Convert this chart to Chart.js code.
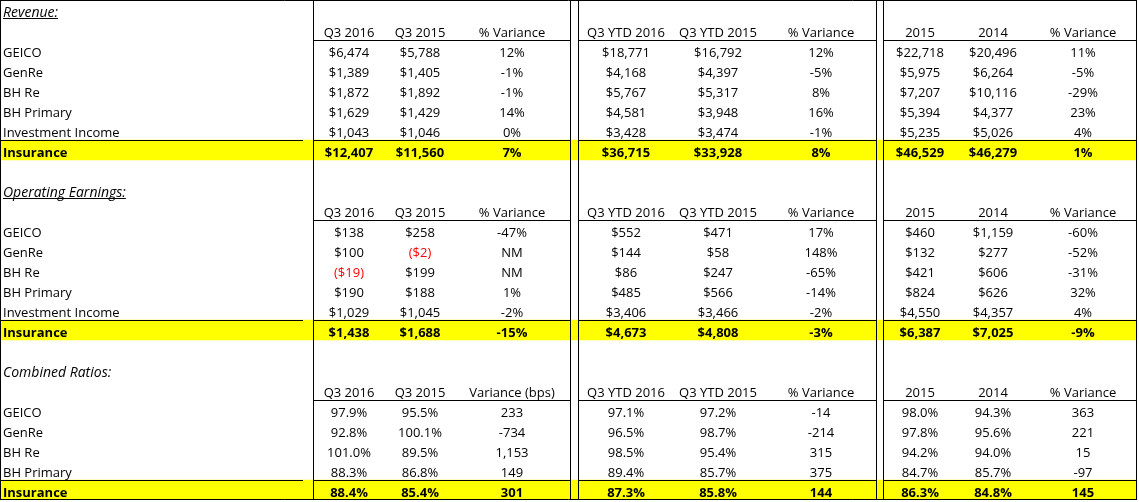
<!DOCTYPE html>
<html>
<head>
<meta charset="utf-8">
<script src="https://cdn.jsdelivr.net/npm/chart.js@4.4.0/dist/chart.umd.min.js"></script>
<style>
  html, body { margin: 0; padding: 0; background: #ffffff; }
  #wrap { width: 1139px; height: 502px; position: relative; }
</style>
</head>
<body>
<div id="wrap"><canvas id="c"></canvas></div>
<script>
// ---------------- DATA ----------------
const sectionTitles = ['Revenue:', 'Operating Earnings:', 'Combined Ratios:'];
const periodHeaders = ['Q3 2016', 'Q3 2015', '% Variance', 'Q3 YTD 2016', 'Q3 YTD 2015', '% Variance', '2015', '2014', '% Variance'];
const ratioHeaders  = ['Q3 2016', 'Q3 2015', 'Variance (bps)', 'Q3 YTD 2016', 'Q3 YTD 2015', '% Variance', '2015', '2014', '% Variance'];

const revenueLabels = ['GEICO', 'GenRe', 'BH Re', 'BH Primary', 'Investment Income', 'Insurance'];
const revenueValues = [
  [6474, 5788, 12, 18771, 16792, 12, 22718, 20496, 11],
  [1389, 1405, -1, 4168, 4397, -5, 5975, 6264, -5],
  [1872, 1892, -1, 5767, 5317, 8, 7207, 10116, -29],
  [1629, 1429, 14, 4581, 3948, 16, 5394, 4377, 23],
  [1043, 1046, 0, 3428, 3474, -1, 5235, 5026, 4],
  [12407, 11560, 7, 36715, 33928, 8, 46529, 46279, 1]
];

const earningsLabels = ['GEICO', 'GenRe', 'BH Re', 'BH Primary', 'Investment Income', 'Insurance'];
const earningsValues = [
  [138, 258, -47, 552, 471, 17, 460, 1159, -60],
  [100, -2, null, 144, 58, 148, 132, 277, -52],
  [-19, 199, null, 86, 247, -65, 421, 606, -31],
  [190, 188, 1, 485, 566, -14, 824, 626, 32],
  [1029, 1045, -2, 3406, 3466, -2, 4550, 4357, 4],
  [1438, 1688, -15, 4673, 4808, -3, 6387, 7025, -9]
];

const ratioLabels = ['GEICO', 'GenRe', 'BH Re', 'BH Primary', 'Insurance'];
const ratioValues = [
  [97.9, 95.5, 233, 97.1, 97.2, -14, 98.0, 94.3, 363],
  [92.8, 100.1, -734, 96.5, 98.7, -214, 97.8, 95.6, 221],
  [101.0, 89.5, 1153, 98.5, 95.4, 315, 94.2, 94.0, 15],
  [88.3, 86.8, 149, 89.4, 85.7, 375, 84.7, 85.7, -97],
  [88.4, 85.4, 301, 87.3, 85.8, 144, 86.3, 84.8, 145]
];

// ---------------- LAYOUT / STYLE ----------------
const FONT = '"Open Sans"';
const FONT_SIZE = 13;
const TITLE_SIZE = 14;
const TABLE_LEFT = 0, TABLE_RIGHT = 1137, X_MAX = 1139;
const LABEL_RULE_END = 303, DATA_LEFT = 313;
const DOUBLE_RULES = [[570, 578], [876, 883]];
const COLUMN_CENTERS = [349, 420, 512, 626, 718, 821, 920, 993, 1083];
const LABEL_X = 3;
const HIGHLIGHT = '#FFFF00';
const NEG_COLOR = '#FF0000';

// ---------------- FORMATTERS ----------------
function commas(n) { return String(Math.abs(n)).replace(/\B(?=(\d{3})+(?!\d))/g, ','); }
const fmt = {
  dollar: v => v < 0 ? '($' + commas(v) + ')' : '$' + commas(v),
  pct0: v => v === null ? 'NM' : (v < 0 ? '-' : '') + Math.abs(v) + '%',
  pct1: v => v.toFixed(1) + '%',
  bps: v => (v < 0 ? '-' : '') + commas(v)
};
const moneyFormats = ['dollar', 'dollar', 'pct0', 'dollar', 'dollar', 'pct0', 'dollar', 'dollar', 'pct0'];
const ratioFormats = ['pct1', 'pct1', 'bps', 'pct1', 'pct1', 'bps', 'pct1', 'pct1', 'bps'];

const sections = [
  { title: sectionTitles[0], underline: true,  headers: periodHeaders, labels: revenueLabels,  values: revenueValues,  formats: moneyFormats },
  { title: sectionTitles[1], underline: true,  headers: periodHeaders, labels: earningsLabels, values: earningsValues, formats: moneyFormats },
  { title: sectionTitles[2], underline: false, headers: ratioHeaders,  labels: ratioLabels,    values: ratioValues,    formats: ratioFormats }
];

// Build the row list
const rows = [];
sections.forEach((s, si) => {
  if (si > 0) rows.push({ type: 'blank' });
  rows.push({ type: 'title', text: s.title, underline: s.underline });
  rows.push({ type: 'header', cells: s.headers });
  s.labels.forEach((lab, li) => {
    const isTotal = lab === 'Insurance';
    rows.push({
      type: isTotal ? 'total' : 'data',
      label: lab,
      cells: s.values[li].map((v, ci) => ({
        text: fmt[s.formats[ci]](v),
        neg: s.formats[ci] === 'dollar' && v < 0
      }))
    });
  });
});

const rowKeys = rows.map((r, i) => String(i));
const highlightSpans = rows.map(r => r.type === 'total' ? [TABLE_LEFT, TABLE_RIGHT] : null);

// ---------------- TABLE PLUGIN ----------------
const tablePlugin = {
  id: 'tableDraw',
  afterDatasetsDraw(chart) {
    const { ctx, scales: { x, y } } = chart;
    const rowH = Math.abs(y.getPixelForValue(1) - y.getPixelForValue(0));
    const rowTop = i => y.getPixelForValue(i) - rowH / 2;
    const rowBottom = i => y.getPixelForValue(i) + rowH / 2;
    const px = v => x.getPixelForValue(v);
    const crisp = v => Math.round(v) + 0.5;
    const tableTop = rowTop(0), tableBottom = rowBottom(rows.length - 1);

    ctx.save();
    ctx.strokeStyle = '#000000';
    ctx.lineWidth = 1;
    function hline(yy, x0, x1) {
      ctx.beginPath(); ctx.moveTo(px(x0), crisp(yy)); ctx.lineTo(px(x1), crisp(yy)); ctx.stroke();
    }
    function vline(xx, y0, y1) {
      ctx.beginPath(); ctx.moveTo(crisp(px(xx)), y0); ctx.lineTo(crisp(px(xx)), y1); ctx.stroke();
    }
    function dataRule(yy) {
      let start = DATA_LEFT;
      DOUBLE_RULES.forEach(([a, b]) => { hline(yy, start, a); start = b; });
      hline(yy, start, TABLE_RIGHT);
    }

    rows.forEach((r, i) => {
      if (r.type === 'header') dataRule(rowBottom(i));
      if (r.type === 'total') {
        hline(rowTop(i), TABLE_LEFT, LABEL_RULE_END);
        dataRule(rowTop(i));
      }
    });

    hline(tableTop, TABLE_LEFT, TABLE_RIGHT);
    hline(tableBottom - 1, TABLE_LEFT, TABLE_RIGHT);
    vline(TABLE_LEFT, tableTop, tableBottom);
    vline(DATA_LEFT, tableTop, tableBottom);
    DOUBLE_RULES.forEach(([a, b]) => { vline(a, tableTop, tableBottom); vline(b, tableTop, tableBottom); });
    vline(TABLE_RIGHT - 1, tableTop, tableBottom);

    ctx.textBaseline = 'alphabetic';
    rows.forEach((r, i) => {
      const base = rowBottom(i) - 3.5;
      if (r.type === 'title') {
        ctx.font = 'italic ' + TITLE_SIZE + 'px ' + FONT;
        ctx.fillStyle = '#000';
        ctx.textAlign = 'left';
        ctx.fillText(r.text, px(LABEL_X), base);
        if (r.underline) {
          const w = ctx.measureText(r.text).width;
          ctx.fillRect(px(LABEL_X), Math.round(base + 1.5), w, 1);
        }
      } else if (r.type === 'header') {
        ctx.font = FONT_SIZE + 'px ' + FONT;
        ctx.fillStyle = '#000';
        ctx.textAlign = 'center';
        r.cells.forEach((t, ci) => ctx.fillText(t, px(COLUMN_CENTERS[ci]), base));
      } else if (r.type === 'data' || r.type === 'total') {
        ctx.font = (r.type === 'total' ? 'bold ' : '') + FONT_SIZE + 'px ' + FONT;
        ctx.fillStyle = '#000';
        ctx.textAlign = 'left';
        ctx.fillText(r.label, px(LABEL_X), base);
        ctx.textAlign = 'center';
        r.cells.forEach((c, ci) => {
          ctx.fillStyle = c.neg ? NEG_COLOR : '#000';
          ctx.fillText(c.text, px(COLUMN_CENTERS[ci]), base);
        });
      }
    });
    ctx.restore();
  }
};

// ---------------- CHART ----------------
new Chart(document.getElementById('c'), {
  type: 'bar',
  data: {
    labels: rowKeys,
    datasets: [{
      data: highlightSpans,
      backgroundColor: HIGHLIGHT,
      borderWidth: 0,
      barPercentage: 1,
      categoryPercentage: 1
    }]
  },
  options: {
    indexAxis: 'y',
    responsive: true,
    maintainAspectRatio: false,
    animation: false,
    events: [],
    layout: { padding: { left: 0, right: 0, top: 0, bottom: 2 } },
    plugins: { legend: { display: false }, tooltip: { enabled: false } },
    scales: {
      x: { type: 'linear', min: 0, max: X_MAX, display: false },
      y: { type: 'category', display: false, offset: true, grid: { display: false } }
    }
  },
  plugins: [tablePlugin]
});
</script>
</body>
</html>
